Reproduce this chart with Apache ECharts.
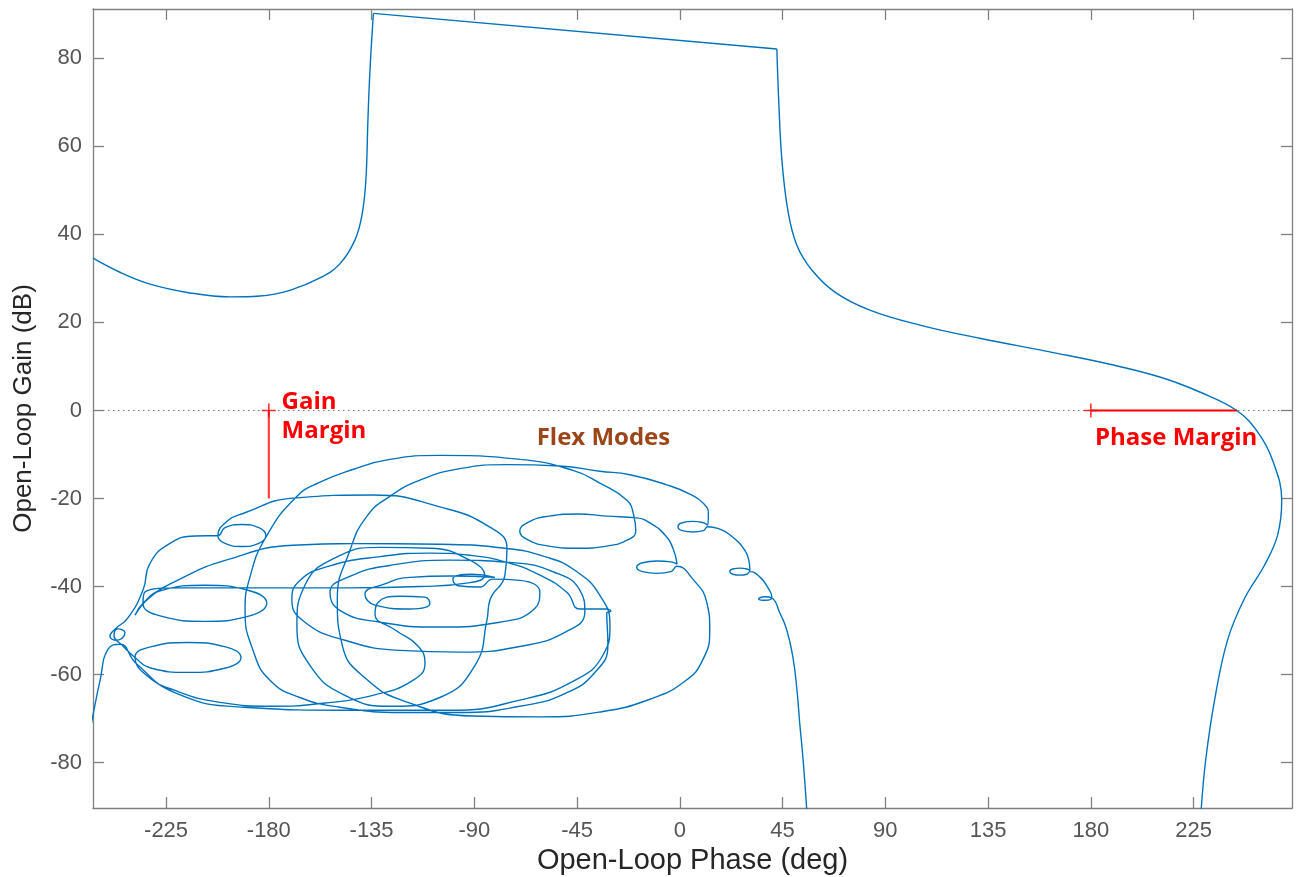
<!DOCTYPE html>
<html>
<head>
<meta charset="utf-8">
<script src="https://cdn.jsdelivr.net/npm/echarts@6/dist/echarts.min.js"></script>
<style>
  html, body { margin: 0; padding: 0; background: #fff; }
  #chart { width: 1297px; height: 877px; }
</style>
</head>
<body>
<div id="chart"></div>
<script>
// Tick values for both axes
const phaseTicks = [-225, -180, -135, -90, -45, 0, 45, 90, 135, 180, 225];
const gainTicks = [-80, -60, -40, -20, 0, 20, 40, 60, 80];

// Low-frequency branch of the open-loop response: [phase deg, gain dB]
const lowFreqBranch = [
  [-257, 34.6], [-245.2, 31.4], [-232, 28.7], [-214.5, 26.7], [-197, 25.8],
  [-184, 26], [-170.8, 27.3], [-157.6, 30.1], [-148.9, 33.3], [-142.3, 38.7],
  [-139.2, 44.4], [-137.5, 52.3], [-136.6, 66], [-135.7, 77.3], [-134.2, 90.2]
];
// Resonant peak plateau
const peakPlateau = [[-134.2, 90.2], [42.5, 82.1]];
// Roll-off through the 0 dB crossover
const rollOffBranch = [
  [42.5, 82.1], [43.3, 70.5], [44.7, 56.9], [47.3, 45.5], [51.2, 37.6],
  [57.8, 31.9], [67.9, 26.9], [83.2, 22.8], [105.1, 19.4], [131.3, 16.4],
  [162, 13.3], [188.3, 10.5], [210.2, 7.6], [227.7, 4.2], [243.9, 0],
  [253.1, -4.9], [259.6, -11.3], [263.6, -20.4], [261.8, -28.3], [256.1, -35.1],
  [247.4, -42.6], [239.9, -52.1], [234.2, -65.8], [230.3, -79.4], [228.3, -90.8]
];
// High-frequency branch with the flexible-mode loops
const flexBranch = [
  [55.6, -90.8], [54, -79.4], [52.5, -71], [51.3, -63.5], [49.5, -56], [46.8, -49.8], [43.8, -46], [40.3, -42.6],
  [37.2, -42.3], [34.5, -42.8], [37.6, -43.1], [40.3, -42.4],
  [38.5, -40.2], [35, -37.8], [30.7, -36.6],
  [29.4, -37.2], [26.3, -37.4], [23.2, -37.2], [21.9, -36.6], [23.2, -36], [26.3, -35.8], [29.4, -36], [30.7, -36.4],
  [30.2, -34], [28.5, -31.8], [23.2, -28.8], [16.6, -26.8], [12.2, -26.4],
  [10.3, -27.3], [5.7, -27.6], [1.1, -27.3], [-0.8, -26.4], [1.1, -25.5], [5.7, -25.2], [10.3, -25.5], [12.2, -26],
  [12.5, -23.4], [10.5, -21.2], [4.4, -19], [-5.7, -16.9], [-21.9, -14.6], [-35, -13.8],
  [-52.5, -12.6], [-75.7, -12.3], [-96.3, -13.2], [-113.8, -15.8], [-127, -19.5], [-137, -24],
  [-144.5, -31.8], [-150, -43], [-147.8, -53.4], [-137.3, -61], [-119.8, -66.2], [-90.8, -69.4],
  [-61.3, -69.6], [-35, -68.5], [-13.1, -65.6], [2.2, -61.5], [10.1, -56.6], [13.1, -49.9],
  [11.8, -43.6], [5.7, -38.3], [-1.3, -35.4],
  [-3.9, -36.6], [-10.1, -37], [-16.3, -36.6], [-18.9, -35.6], [-16.3, -34.6], [-10.1, -34.2], [-3.9, -34.4], [-1.2, -34.9],
  [-3.1, -31.2], [-6.5, -28.3], [-12.3, -25.8], [-18.8, -24.4],
  [-32, -24], [-44.7, -23.5], [-57.4, -24], [-66.7, -25.45], [-70.1, -27.4], [-66.7, -29.35],
  [-57.4, -30.8], [-44.7, -31.3], [-32, -30.8], [-22.7, -29.35], [-19.3, -27.4], [-20.2, -23.8],
  [-23.2, -20.4], [-35, -16.5], [-46.8, -13.6], [-70.1, -11.1], [-105.1, -10.2], [-127, -11.1],
  [-143.2, -13.4], [-157.6, -16.3], [-168.1, -19.7], [-181.3, -28.8], [-188.3, -37.9], [-190.4, -45.4],
  [-186.9, -54.5], [-179.5, -61.3], [-166.4, -65.2], [-148.9, -67.4], [-122.6, -68.6], [-96.3, -68.6],
  [-70.1, -67.2], [-50.3, -64.3], [-37.2, -59.5], [-31.5, -53.3], [-32, -46],
  [-30.2, -45.6], [-32.4, -45.1],
  [-43.8, -45.1], [-49.5, -41.3], [-61.3, -37.4], [-75.7, -34.5], [-91.9, -32.9], [-109.5, -32.4],
  [-131.3, -33.2], [-153.2, -35.3], [-166.4, -38.6], [-169.9, -43.1], [-164.2, -48.1], [-146.7, -52.2],
  [-122.6, -54.5], [-96.3, -54.9], [-70.1, -53.6], [-50.3, -50.4], [-41.6, -45.8], [-43.8, -40.8],
  [-54.7, -36.8], [-74.4, -34.5], [-100.7, -34], [-127, -35.2], [-144.5, -37.7], [-153.2, -41.3],
  [-148.9, -45.4], [-131.3, -48.1], [-105.1, -49.2], [-78.8, -48.1], [-63.5, -45], [-61.3, -41.3],
  [-70.1, -38.6],
  [-81.9, -38.3], [-87.6, -40.1], [-97.2, -39.8], [-99.4, -38.3], [-91.1, -37.2], [-81, -37.9],
  [-100.7, -37.6], [-118.2, -37.9], [-129.2, -39.4], [-137.9, -41.7], [-133.5, -44.2], [-118.2, -45.1],
  [-109.5, -43.8], [-111.6, -42.4], [-122.6, -42.2], [-132.2, -43.6], [-133.5, -46.3],
  [-124.8, -49.8], [-114.7, -53.5], [-111.6, -57.4], [-116.9, -61.3], [-134.4, -64.7], [-156.3, -66.5],
  [-178.2, -67.2], [-201.4, -66.3], [-221.1, -63.6], [-233.5, -60.2],
  [-238.6, -56.1], [-231.8, -53.7], [-215.4, -52.7], [-199, -53.7], [-192.2, -56.1], [-199, -58.5],
  [-215.4, -59.5], [-231.8, -58.5], [-238.6, -56.1],
  [-244.3, -53.3],
  [-247.8, -51.2], [-246.1, -49.6], [-243, -50.5], [-246.5, -52.2], [-249.6, -51.3], [-247.4, -49.7],
  [-241.7, -47.1], [-235.1, -40.8], [-232, -34.7], [-223.3, -30.2], [-212.3, -28.5], [-202.3, -28.4],
  [-199.2, -26.6], [-191.8, -25.9], [-184.4, -26.6], [-181.3, -28.4], [-184.4, -30.2], [-191.8, -30.9],
  [-199.2, -30.2], [-202.3, -28.4],
  [-197.9, -25], [-191.3, -23.4], [-169.4, -19.9], [-134.4, -19.2], [-105.1, -21.9], [-83.2, -26.5],
  [-75.7, -31.3],
  [-76.6, -37.4], [-83.2, -43.1], [-84.5, -47.7], [-89.7, -57.9], [-105.1, -65.2], [-126.1, -67.2],
  [-146.7, -64.7], [-162, -57.9], [-167.7, -48.8], [-164.2, -39.7], [-151, -33.5], [-131.3, -31.1],
  [-109.5, -31.3], [-91.9, -34], [-85.4, -37.4],
  [-91.9, -39.1], [-113.8, -40], [-144.5, -40.3], [-188.3, -40.3], [-218.9, -40.3], [-234.2, -41.2],
  [-235.1, -43.8], [-227.2, -46.7], [-208, -47.9], [-188.8, -46.7], [-180.9, -43.8], [-188.8, -40.9],
  [-208, -39.7], [-227.2, -40.9], [-235.1, -43.8], [-238.6, -46.5],
  [-232, -42.4], [-218.9, -38.3], [-198.8, -34], [-169.4, -30.6], [-143.2, -30.2], [-105.1, -30.4],
  [-76.6, -31.3], [-59.1, -33.2], [-46, -36.3], [-35, -42], [-30.6, -48.8], [-33.7, -55.6],
  [-46, -61.3], [-70.1, -65.8], [-100.7, -68.1], [-143.2, -68.1], [-191.3, -67.4], [-220.7, -64.2],
  [-238.2, -57.4], [-245.2, -53.1], [-250.4, -54.2], [-253.9, -61.3], [-257, -69.2], [-258, -72]
];

// Stability margins
const gainMarginLine = [[-180, 0], [-180, -20]];
const phaseMarginLine = [[180, 0], [243.9, 0]];
const marginCrossings = [[-180, 0], [180, 0]];
const zeroDbLine = [[-257, 0], [268.1, 0]];

const PHASE_MIN = -257, PHASE_MAX = 268.1;
const GAIN_MIN = -90.3, GAIN_MAX = 91.2;
const BLUE = '#0072BD';
const RED = '#ff0000';
const AXIS_GREY = '#808080';

const chart = echarts.init(document.getElementById('chart'), null, { renderer: 'canvas' });

function boxAxis(position, isX, showLabels, name) {
  const ticks = isX ? phaseTicks : gainTicks;
  return {
    type: 'value',
    position: position,
    min: isX ? PHASE_MIN : GAIN_MIN,
    max: isX ? PHASE_MAX : GAIN_MAX,
    name: name || '',
    nameLocation: 'middle',
    nameGap: isX ? 37 : 56,
    nameRotate: isX ? 0 : 90,
    nameTextStyle: { fontFamily: 'Liberation Sans, Arial, sans-serif', fontSize: isX ? 29 : 26, color: '#262626' },
    axisLine: { show: true, onZero: false, lineStyle: { color: AXIS_GREY, width: 1.3 } },
    axisTick: { show: true, inside: true, length: 11, customValues: ticks, lineStyle: { color: AXIS_GREY, width: 1.3 } },
    axisLabel: {
      show: showLabels, customValues: ticks, margin: isX ? 12 : 11,
      fontFamily: 'Liberation Sans, Arial, sans-serif', fontSize: 22, color: '#555'
    },
    splitLine: { show: false }
  };
}

function curve(data, smooth) {
  return {
    type: 'line', data: data, showSymbol: false, smooth: smooth, clip: true,
    lineStyle: { color: BLUE, width: 1.4 }, silent: true, z: 3
  };
}

function textMark(x, y, text, color) {
  return {
    type: 'scatter', data: [[x, y]], symbolSize: 0, silent: true, z: 6,
    itemStyle: { color: color, opacity: 1 },
    label: {
      show: true, position: 'right', distance: 0, formatter: text,
      textBorderWidth: 0, textShadowBlur: 0, opacity: 1,
      fontFamily: 'Open Sans, Lato, sans-serif', fontWeight: 'bold', fontSize: 24, color: color
    }
  };
}

chart.setOption({
  animation: false,
  backgroundColor: '#fff',
  grid: { left: 93, right: 5, top: 9, bottom: 69, containLabel: false, outerBoundsMode: 'none' },
  xAxis: [
    boxAxis('bottom', true, true, 'Open-Loop Phase (deg)'),
    boxAxis('top', true, false)
  ],
  yAxis: [
    boxAxis('left', false, true, 'Open-Loop Gain (dB)'),
    boxAxis('right', false, false)
  ],
  series: [
    {
      type: 'line', data: zeroDbLine, showSymbol: false, silent: true, z: 1,
      lineStyle: { color: '#777', width: 1.2, type: [1.5, 3.5] }
    },
    curve(lowFreqBranch, 0.4),
    curve(peakPlateau, false),
    curve(rollOffBranch, 0.4),
    curve(flexBranch, 0.5),
    {
      type: 'line', data: gainMarginLine, showSymbol: false, silent: true, z: 5,
      lineStyle: { color: '#ff4040', width: 2.2 }
    },
    {
      type: 'line', data: phaseMarginLine, showSymbol: false, silent: true, z: 5,
      lineStyle: { color: RED, width: 2 }
    },
    {
      type: 'scatter', data: marginCrossings, silent: true, z: 6,
      symbol: 'path://M5,0L5,10M0,5L10,5', symbolSize: 14,
      itemStyle: { color: 'none', borderColor: RED, borderWidth: 1.6 }
    },
    textMark(-174.4, 2.0, 'Gain', RED),
    textMark(-174.4, -4.7, 'Margin', RED),
    textMark(-62.7, -6.2, 'Flex Modes', '#9c4518'),
    textMark(181.8, -6.2, 'Phase Margin', RED)
  ]
});
</script>
</body>
</html>
